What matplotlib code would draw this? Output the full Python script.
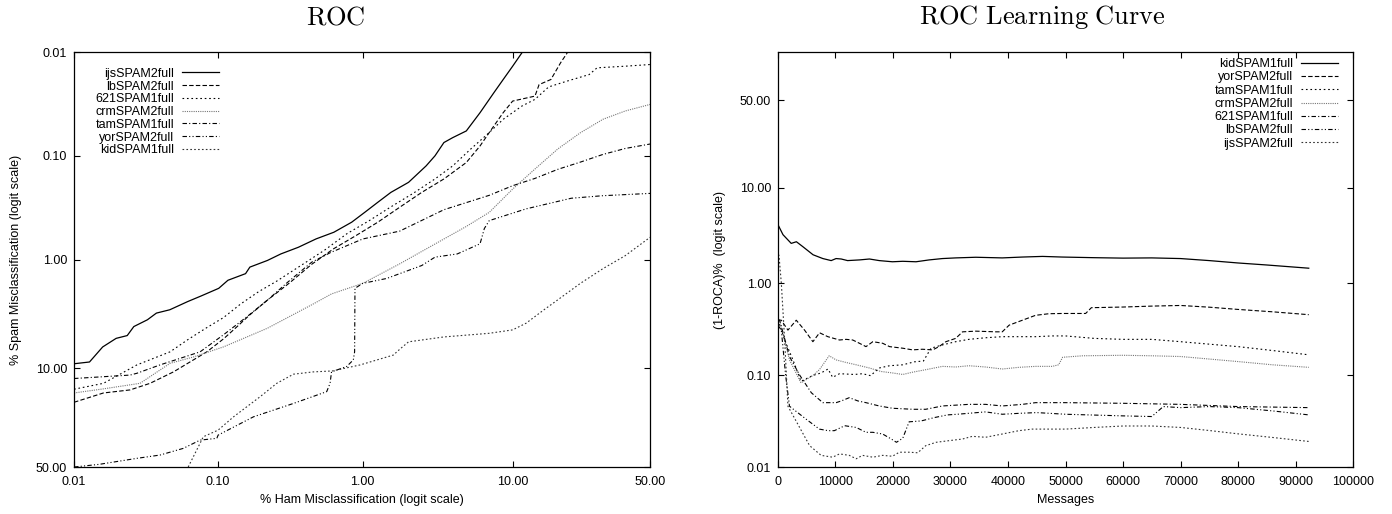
import numpy as np
import matplotlib
matplotlib.use('Agg')
import matplotlib.pyplot as plt

plt.rcParams['font.family'] = ['Liberation Sans', 'DejaVu Sans']
plt.rcParams['mathtext.fontset'] = 'cm'

# ---------------- ROC (left), values in percent ----------------
ijs_ham = [0.01, 0.0128, 0.0158, 0.0196, 0.0234, 0.026, 0.0323, 0.0373, 0.0462, 0.0615, 0.076, 0.101, 0.117,
           0.155, 0.166, 0.22, 0.272, 0.36, 0.477, 0.633, 0.84, 1.035, 1.27, 1.56, 2.06, 2.71, 3.11, 3.57, 4.09,
           5.03, 6.19, 7.6, 8.72, 10.0, 11.4]
ijs_spam = [9.18, 8.86, 6.51, 5.44, 5.13, 4.24, 3.67, 3.18, 2.96, 2.48, 2.20, 1.86, 1.56, 1.35, 1.17, 1.01, 0.876,
            0.756, 0.629, 0.543, 0.435, 0.349, 0.280, 0.225, 0.180, 0.125, 0.100, 0.0745, 0.0668, 0.0576, 0.0384,
            0.0247, 0.0184, 0.0137, 0.0102]

lb_ham = [0.01, 0.016, 0.0245, 0.0337, 0.049, 0.0835, 0.109, 0.134, 0.166, 0.22, 0.313, 0.445, 0.632, 0.90, 1.27,
          1.79, 2.53, 3.57, 5.03, 6.19, 7.1, 8.72, 10.0, 13.7, 14.5, 17.0, 19.3, 21.0]
lb_spam = [19.2, 16.2, 15.3, 13.5, 10.8, 7.2, 5.5, 4.3, 3.3, 2.4, 1.65, 1.1, 0.78, 0.584, 0.435, 0.313, 0.225,
           0.167, 0.116, 0.0803, 0.0597, 0.0384, 0.0297, 0.0266, 0.0206, 0.0184, 0.0127, 0.0102]

s621_ham = [0.01, 0.016, 0.0273, 0.0464, 0.0615, 0.082, 0.109, 0.144, 0.191, 0.253, 0.386, 0.55, 0.78, 1.11, 1.56,
            2.21, 3.11, 4.09, 5.38, 7.1, 8.72, 11.4, 13.7, 16.5, 20.9, 27.4, 30.0, 40.2, 50.0]
s621_spam = [15.1, 13.5, 9.4, 7.2, 5.6, 4.4, 3.5, 2.6, 2.0, 1.6, 1.1, 0.8, 0.56, 0.42, 0.31, 0.23, 0.167, 0.125,
             0.086, 0.0597, 0.0445, 0.0332, 0.0286, 0.0217, 0.0191, 0.0165, 0.0142, 0.0137, 0.0132]

crm_ham = [0.01, 0.016, 0.0287, 0.0464, 0.0674, 0.109, 0.22, 0.445, 0.61, 1.0, 1.79, 3.57, 5.0, 7.1, 10.0, 13.7,
           18.6, 24.7, 32.0, 40.2, 50.0]
crm_spam = [16.2, 15.0, 13.5, 9.1, 8.0, 6.5, 4.39, 2.66, 2.1, 1.67, 1.09, 0.63, 0.48, 0.35, 0.209, 0.134, 0.086,
            0.06, 0.0445, 0.037, 0.032]

tam_ham = [0.01, 0.0245, 0.0273, 0.0395, 0.075, 0.11, 0.16, 0.22, 0.3, 0.445, 0.6, 1.0, 1.79, 3.57, 7.1, 10.0, 13.7,
           18.6, 24.7, 32.0, 40.2, 50.0]
tam_spam = [12.3, 11.5, 11.1, 9.4, 7.2, 5.0, 3.4, 2.4, 1.65, 1.05, 0.85, 0.63, 0.53, 0.33, 0.24, 0.194, 0.165,
            0.135, 0.115, 0.097, 0.085, 0.077]

yor_ham = [0.01, 0.015, 0.0273, 0.0395, 0.0573, 0.075, 0.098, 0.1, 0.176, 0.333, 0.565, 0.596, 0.61, 0.776, 0.862,
           0.88, 0.885, 1.0, 1.46, 2.53, 3.11, 4.38, 6.19, 6.6, 7.1, 12.1, 22.1, 32.0, 50.0]
yor_spam = [50.0, 48.5, 45.2, 43.4, 39.8, 35.5, 34.6, 33.0, 24.7, 19.6, 15.8, 13.5, 10.8, 9.7, 8.5, 7.2, 1.86,
            1.67, 1.50, 1.13, 0.94, 0.876, 0.70, 0.50, 0.42, 0.324, 0.256, 0.242, 0.23]

kid_ham = [0.062, 0.079, 0.1, 0.128, 0.195, 0.255, 0.333, 0.457, 0.62, 0.96, 1.62, 1.8, 2.06, 3.57, 7.1, 10.0,
           12.1, 15.5, 18.6, 24.7, 32.0, 40.2, 50.0]
kid_spam = [50.0, 33.8, 30.6, 24.7, 17.4, 13.5, 11.3, 10.8, 10.6, 9.4, 7.7, 6.8, 5.85, 5.28, 4.89, 4.55, 3.95,
            2.96, 2.39, 1.67, 1.21, 0.91, 0.607]

roc_names = ['ijsSPAM2full', 'lbSPAM2full', '621SPAM1full', 'crmSPAM2full', 'tamSPAM1full', 'yorSPAM2full',
             'kidSPAM1full']
roc_data = [(ijs_ham, ijs_spam), (lb_ham, lb_spam), (s621_ham, s621_spam), (crm_ham, crm_spam),
            (tam_ham, tam_spam), (yor_ham, yor_spam), (kid_ham, kid_spam)]

# ---------------- learning curve (right), 1-ROCA in percent ----------------
kid_msg = [0, 870, 2300, 3200, 4300, 6100, 7800, 9250, 10100, 11000, 12100, 14200, 15900, 17600, 19900, 21700,
           24000, 26300, 28600, 30900, 34400, 39000, 42500, 46000, 49400, 55000, 60000, 65000, 70000, 75000,
           80000, 85000, 92300]
kid_roca = [4.2, 3.3, 2.67, 2.78, 2.47, 2.02, 1.84, 1.75, 1.84, 1.82, 1.75, 1.78, 1.82, 1.75, 1.70, 1.72, 1.70,
            1.78, 1.84, 1.87, 1.90, 1.87, 1.91, 1.94, 1.91, 1.88, 1.86, 1.87, 1.84, 1.75, 1.65, 1.57, 1.45]

yor_msg = [0, 580, 1730, 3180, 4620, 6070, 7230, 8670, 10700, 11850, 13000, 14160, 15300, 16500, 18200, 19400,
           21700, 23400, 25100, 26900, 28000, 29200, 30900, 32100, 34400, 37900, 39000, 40200, 42500, 44800,
           47100, 49400, 53500, 54500, 60000, 65000, 70000, 75000, 80000, 86000, 92300]
yor_roca = [0.40, 0.397, 0.31, 0.397, 0.31, 0.232, 0.290, 0.263, 0.242, 0.246, 0.242, 0.223, 0.205, 0.232, 0.223,
            0.205, 0.197, 0.189, 0.192, 0.189, 0.205, 0.232, 0.252, 0.297, 0.302, 0.297, 0.297, 0.351, 0.397,
            0.449, 0.467, 0.470, 0.47, 0.543, 0.552, 0.565, 0.574, 0.55, 0.52, 0.49, 0.456]

tam_msg = [0, 1160, 2600, 4000, 6100, 7500, 8700, 9500, 10700, 13300, 14700, 16100, 17600, 19400, 21700, 23700,
           25300, 26600, 28600, 30900, 33200, 36100, 39000, 42000, 44800, 47700, 50000, 55000, 60000, 65000,
           70000, 80000, 86000, 92300]
tam_roca = [0.40, 0.242, 0.147, 0.086, 0.0997, 0.106, 0.117, 0.095, 0.104, 0.102, 0.104, 0.099, 0.120, 0.127,
            0.130, 0.140, 0.143, 0.197, 0.214, 0.232, 0.246, 0.256, 0.263, 0.263, 0.263, 0.268, 0.268, 0.252,
            0.246, 0.246, 0.232, 0.205, 0.186, 0.167]

crm_msg = [0, 170, 2000, 4000, 6100, 7200, 8900, 10100, 11800, 13600, 15900, 17900, 19900, 21700, 23400, 25700,
           28600, 30900, 33200, 36100, 39000, 41900, 44800, 47700, 48800, 49500, 53000, 60000, 65000, 70000,
           80000, 86000, 92300]
crm_roca = [0.40, 0.414, 0.147, 0.0827, 0.0997, 0.115, 0.163, 0.147, 0.138, 0.130, 0.120, 0.110, 0.106, 0.102,
            0.108, 0.115, 0.125, 0.123, 0.127, 0.123, 0.117, 0.122, 0.125, 0.125, 0.130, 0.157, 0.163, 0.165,
            0.163, 0.160, 0.141, 0.130, 0.122]

s621_msg = [0, 290, 2000, 3800, 5800, 7800, 10100, 11000, 12400, 13900, 15300, 17600, 19900, 23400, 25700, 28600,
            33200, 36100, 39000, 42500, 44800, 47700, 50000, 60000, 70000, 80000, 92300]
s621_roca = [0.40, 0.397, 0.160, 0.0997, 0.0645, 0.0503, 0.0503, 0.0525, 0.057, 0.0525, 0.0503, 0.0463, 0.0437,
             0.0426, 0.0426, 0.0463, 0.0482, 0.0482, 0.0463, 0.0482, 0.0503, 0.0503, 0.0503, 0.0495, 0.0482,
             0.0456, 0.0444]

lb_msg = [0, 580, 1330, 2000, 4900, 7200, 8700, 9800, 11600, 13600, 15300, 16500, 18200, 19700, 20600, 21700,
          22800, 24900, 27200, 29500, 31200, 36100, 39000, 42000, 45000, 50000, 60000, 65000, 67000, 70000, 75000,
          80000, 86000, 92300]
lb_roca = [0.35, 0.31, 0.0997, 0.046, 0.0332, 0.0259, 0.0249, 0.0249, 0.0282, 0.0270, 0.0239, 0.0239, 0.0229,
           0.0202, 0.0186, 0.0206, 0.0311, 0.0318, 0.0346, 0.037, 0.0376, 0.0399, 0.0376, 0.0385, 0.0392, 0.0376,
           0.0361, 0.0355, 0.0456, 0.0444, 0.0456, 0.0444, 0.0409, 0.037]

ijs_msg = [0, 170, 580, 1160, 1730, 5500, 7500, 9500, 10700, 12400, 13600, 14700, 16500, 18200, 19900, 21100,
           22800, 24300, 25700, 27500, 29800, 32100, 33800, 36100, 39000, 41900, 44200, 47700, 50000, 55000, 60000,
           65000, 70000, 75000, 80000, 86000, 92300]
ijs_roca = [2.0, 2.0, 1.0, 0.242, 0.046, 0.0171, 0.0134, 0.0128, 0.0139, 0.0134, 0.0123, 0.0134, 0.0128, 0.0134,
            0.0131, 0.0145, 0.0145, 0.0143, 0.0171, 0.0186, 0.0194, 0.0202, 0.0216, 0.0211, 0.0229, 0.0249, 0.0259,
            0.0259, 0.0259, 0.027, 0.028, 0.028, 0.027, 0.025, 0.023, 0.021, 0.019]

lc_names = ['kidSPAM1full', 'yorSPAM2full', 'tamSPAM1full', 'crmSPAM2full', '621SPAM1full', 'lbSPAM2full',
            'ijsSPAM2full']
lc_data = [(kid_msg, kid_roca), (yor_msg, yor_roca), (tam_msg, tam_roca), (crm_msg, crm_roca),
           (s621_msg, s621_roca), (lb_msg, lb_roca), (ijs_msg, ijs_roca)]

# gnuplot-like line types 1..7
styles = [dict(ls='-', color='black', lw=0.9),
          dict(ls=(0, (4, 2)), color='black', lw=0.8),
          dict(ls=(0, (1.5, 2.5)), color='black', lw=0.8),
          dict(ls=(0, (1, 1)), color='#777777', lw=0.8),
          dict(ls=(0, (4, 2, 1, 2)), color='black', lw=0.8),
          dict(ls=(0, (4, 2, 1, 2, 1, 2)), color='black', lw=0.8),
          dict(ls=(0, (1.5, 2)), color='#333333', lw=0.8)]


def pct_logit(v):
    v = np.asarray(v, float)
    with np.errstate(all='ignore'):
        return np.log(v / (100.0 - v))


def pct_unlogit(l):
    with np.errstate(all='ignore'):
        return 100.0 / (1.0 + np.exp(-np.asarray(l, float)))


FS = 9
fig = plt.figure(figsize=(13.92, 5.14), dpi=100)


def style_axes(ax):
    ax.minorticks_off()
    ax.tick_params(direction='in', top=True, right=True, length=4, width=0.8, labelsize=FS)
    ax.tick_params(axis='x', pad=6.5)
    ax.tick_params(axis='y', pad=5)
    for sp in ax.spines.values():
        sp.set_linewidth(0.9)


# left: ROC
ax1 = fig.add_axes([0.0532, 0.0914, 0.4138, 0.8074])
lines = []
for (hx, sy), st in zip(roc_data, styles):
    ln, = ax1.plot(hx, sy, **st)
    lines.append(ln)
ax1.set_xscale('function', functions=(pct_logit, pct_unlogit))
ax1.set_yscale('function', functions=(pct_logit, pct_unlogit))
ax1.set_xlim(0.01, 50)
ax1.set_ylim(50, 0.01)
roc_ticks = [0.01, 0.1, 1, 10, 50]
ax1.set_xticks(roc_ticks, ['%.2f' % t for t in roc_ticks])
ax1.set_yticks(roc_ticks, ['%.2f' % t for t in roc_ticks])
style_axes(ax1)
ax1.set_xlabel('% Ham Misclassification (logit scale)', fontsize=FS, labelpad=4)
ax1.set_ylabel('% Spam Misclassification (logit scale)', fontsize=FS, labelpad=10)
ax1.legend(lines, roc_names, loc='upper right', bbox_to_anchor=(0.252, 0.962), frameon=False,
           markerfirst=False, fontsize=FS, handlelength=3.0, handletextpad=0.6, labelspacing=0.06,
           borderpad=0, borderaxespad=0)

# right: learning curve
ax2 = fig.add_axes([0.5589, 0.0914, 0.4131, 0.8074])
lines = []
for (mx, ry), st in zip(lc_data, styles):
    ln, = ax2.plot(mx, ry, **st)
    lines.append(ln)
ax2.set_yscale('function', functions=(pct_logit, pct_unlogit))
ax2.set_xlim(0, 100000)
ax2.set_ylim(0.01, 77)
xt = list(range(0, 100001, 10000))
ax2.set_xticks(xt, [str(t) for t in xt])
lc_yticks = [0.01, 0.1, 1, 10, 50]
ax2.set_yticks(lc_yticks, ['%.2f' % t for t in lc_yticks])
style_axes(ax2)
ax2.set_xlabel('Messages', fontsize=FS, labelpad=4)
ax2.set_ylabel('(1-ROCA)%  (logit scale)', fontsize=FS, labelpad=10)
ax2.legend(lines, lc_names, loc='upper right', bbox_to_anchor=(0.974, 0.985), frameon=False,
           markerfirst=False, fontsize=FS, handlelength=3.0, handletextpad=0.6, labelspacing=0.1,
           borderpad=0, borderaxespad=0)

fig.text(0.2414, 0.966, r'$\mathrm{ROC}$', ha='center', va='center', fontsize=19)
fig.text(0.7486, 0.966, r'$\mathrm{ROC\ Learning\ Curve}$', ha='center', va='center', fontsize=19)

fig.savefig('out.png', dpi=100, facecolor='white')
